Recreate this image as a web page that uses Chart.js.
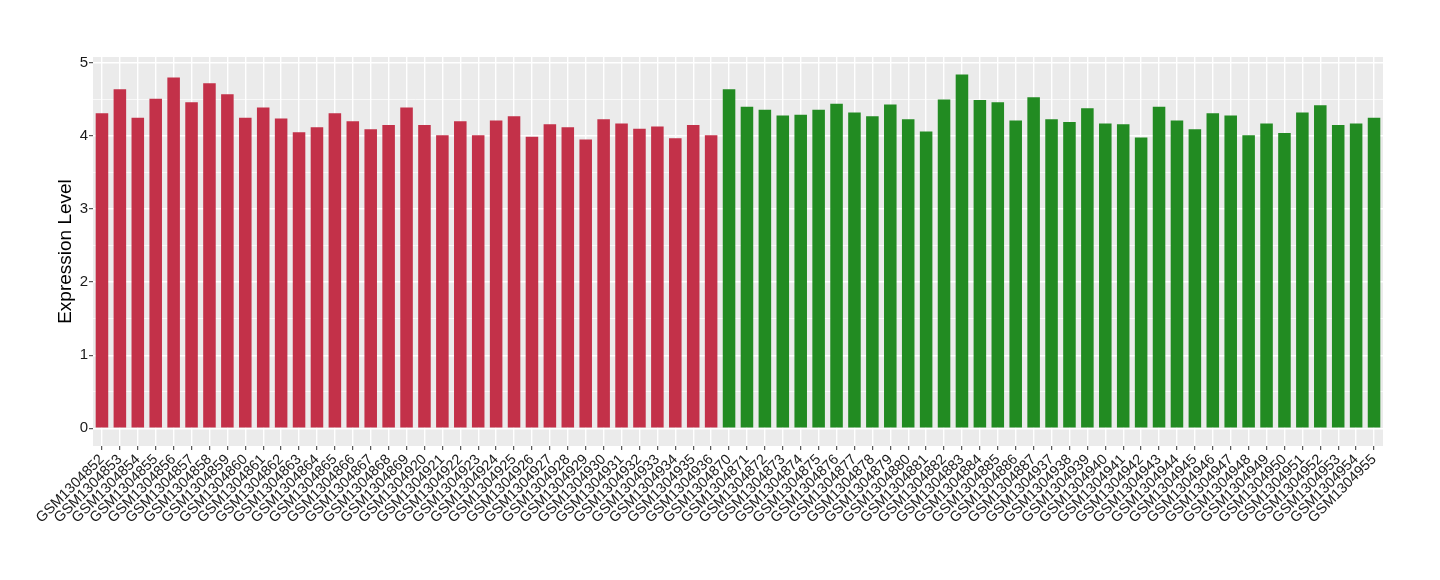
<!DOCTYPE html>
<html>
<head>
<meta charset="utf-8">
<title>Expression Level</title>
<script src="https://cdn.jsdelivr.net/npm/chart.js@4.4.1/dist/chart.umd.min.js"></script>
<style>
    body { margin: 0; background: #ffffff; }
    #wrap { width: 1440px; height: 580px; }
</style>
</head>
<body>
<div id="wrap"><canvas id="exprChart" width="1440" height="580"></canvas></div>
<script>
// Sample names (first group red, second group green)
const groupASamples = [
    'GSM1304852', 'GSM1304853', 'GSM1304854', 'GSM1304855', 'GSM1304856', 'GSM1304857',
    'GSM1304858', 'GSM1304859', 'GSM1304860', 'GSM1304861', 'GSM1304862', 'GSM1304863',
    'GSM1304864', 'GSM1304865', 'GSM1304866', 'GSM1304867', 'GSM1304868', 'GSM1304869',
    'GSM1304920', 'GSM1304921', 'GSM1304922', 'GSM1304923', 'GSM1304924', 'GSM1304925',
    'GSM1304926', 'GSM1304927', 'GSM1304928', 'GSM1304929', 'GSM1304930', 'GSM1304931',
    'GSM1304932', 'GSM1304933', 'GSM1304934', 'GSM1304935', 'GSM1304936'
];
const groupBSamples = [
    'GSM1304870', 'GSM1304871', 'GSM1304872', 'GSM1304873', 'GSM1304874', 'GSM1304875',
    'GSM1304876', 'GSM1304877', 'GSM1304878', 'GSM1304879', 'GSM1304880', 'GSM1304881',
    'GSM1304882', 'GSM1304883', 'GSM1304884', 'GSM1304885', 'GSM1304886', 'GSM1304887',
    'GSM1304937', 'GSM1304938', 'GSM1304939', 'GSM1304940', 'GSM1304941', 'GSM1304942',
    'GSM1304943', 'GSM1304944', 'GSM1304945', 'GSM1304946', 'GSM1304947', 'GSM1304948',
    'GSM1304949', 'GSM1304950', 'GSM1304951', 'GSM1304952', 'GSM1304953', 'GSM1304954',
    'GSM1304955'
];

// Expression values
const groupAValues = [
    4.31, 4.64, 4.25, 4.51, 4.80, 4.46, 4.72, 4.57, 4.25, 4.39, 4.24, 4.05,
    4.12, 4.31, 4.20, 4.09, 4.15, 4.39, 4.15, 4.01, 4.20, 4.01, 4.21, 4.27,
    3.99, 4.16, 4.12, 3.95, 4.23, 4.17, 4.10, 4.13, 3.97, 4.15, 4.01
];
const groupBValues = [
    4.64, 4.40, 4.36, 4.28, 4.29, 4.36, 4.44, 4.32, 4.27, 4.43, 4.23, 4.06,
    4.50, 4.84, 4.49, 4.46, 4.21, 4.53, 4.23, 4.19, 4.38, 4.17, 4.16, 3.98,
    4.40, 4.21, 4.09, 4.31, 4.28, 4.01, 4.17, 4.04, 4.32, 4.42, 4.15, 4.17,
    4.25
];

const yTickValues = [0, 1, 2, 3, 4, 5];
const yMinorValues = [0.5, 1.5, 2.5, 3.5, 4.5];

const groupAColor = '#C33149';
const groupBColor = '#228B22';

document.addEventListener('DOMContentLoaded', () => {
    const labels = groupASamples.concat(groupBSamples);
    const values = groupAValues.concat(groupBValues);
    const colors = groupASamples.map(() => groupAColor)
        .concat(groupBSamples.map(() => groupBColor));

    // ggplot style grey panel behind the bars
    const panelBackground = {
        id: 'panelBackground',
        beforeDraw(chart) {
            const { ctx, chartArea } = chart;
            ctx.save();
            ctx.fillStyle = '#EBEBEB';
            ctx.fillRect(chartArea.left, chartArea.top,
                chartArea.right - chartArea.left, chartArea.bottom - chartArea.top);
            ctx.restore();
        }
    };

    const isMajor = v => yTickValues.includes(v);

    const ctx = document.getElementById('exprChart').getContext('2d');
    new Chart(ctx, {
        type: 'bar',
        data: {
            labels: labels,
            datasets: [{
                label: 'Expression Level',
                data: values,
                backgroundColor: colors,
                borderWidth: 0,
                barPercentage: 0.7,
                categoryPercentage: 1.0
            }]
        },
        options: {
            responsive: false,
            animation: false,
            layout: { padding: { top: 57, right: 57, left: 0, bottom: 0 } },
            plugins: {
                legend: { display: false },
                tooltip: { enabled: false }
            },
            scales: {
                x: {
                    grid: {
                        offset: false,
                        color: '#FFFFFF',
                        lineWidth: 1.4,
                        drawTicks: true,
                        tickLength: 4,
                        tickColor: '#333333',
                        tickWidth: 1
                    },
                    border: { display: false },
                    ticks: {
                        autoSkip: false,
                        maxRotation: 45,
                        minRotation: 45,
                        padding: 1,
                        color: '#1A1A1A',
                        font: { family: 'Liberation Sans', size: 14.5 }
                    },
                    afterFit(scale) { scale.height = 134; }
                },
                y: {
                    min: -0.242,
                    max: 5.08,
                    afterBuildTicks(scale) {
                        scale.ticks = yTickValues.concat(yMinorValues)
                            .sort((a, b) => a - b)
                            .map(v => ({ value: v }));
                    },
                    grid: {
                        color: '#FFFFFF',
                        lineWidth: c => isMajor(c.tick.value) ? 1.4 : 0.7,
                        drawTicks: true,
                        tickLength: 4,
                        tickColor: c => isMajor(c.tick.value) ? '#333333' : 'rgba(0,0,0,0)',
                        tickWidth: 1
                    },
                    border: { display: false },
                    ticks: {
                        padding: 1,
                        color: '#1A1A1A',
                        font: { family: 'Liberation Sans', size: 15 },
                        callback: v => isMajor(v) ? String(v) : ''
                    },
                    title: {
                        display: true,
                        text: 'Expression Level',
                        color: '#000000',
                        font: { family: 'Liberation Sans', size: 19 },
                        padding: { top: 54, bottom: 0 }
                    },
                    afterFit(scale) { scale.width = 93; }
                }
            }
        },
        plugins: [panelBackground]
    });
});
</script>
</body>
</html>
